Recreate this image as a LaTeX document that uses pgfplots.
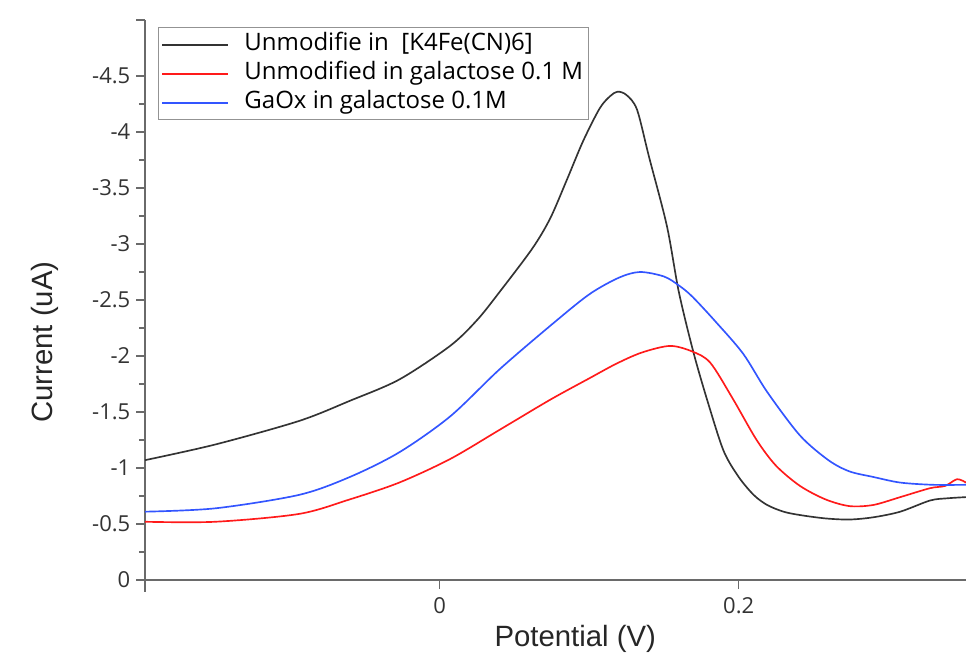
\documentclass[border=0pt]{standalone}
\usepackage{fontspec}
\setmainfont{Open Sans}
\newfontfamily\labelfont{Liberation Sans}
\usepackage{pgfplots}
\pgfplotsset{compat=1.18}

\definecolor{axisgray}{HTML}{6A6A6A}
\definecolor{cvblack}{HTML}{333333}
\definecolor{cvred}{HTML}{FF1A1A}
\definecolor{cvblue}{HTML}{3355FF}

\begin{document}
\begin{tikzpicture}
\useasboundingbox (-108.75pt,-54.75pt) rectangle (615.75pt,435pt);
\begin{axis}[
    scale only axis,
    width=615.75pt, height=420pt,
    xmin=-0.197, xmax=0.352,
    ymin=-5, ymax=0,
    y dir=reverse,
    axis x line*=bottom, axis y line*=left,
    axis line style={axisgray, line width=1.5pt},
    tick style={axisgray, line width=1.1pt},
    tick align=outside,
    major tick length=6.5pt, minor tick length=4.5pt,
    xtick={0,0.2}, xticklabels={0,0.2},
    ytick={-4.5,-4,-3.5,-3,-2.5,-2,-1.5,-1,-0.5,0},
    yticklabels={-4.5,-4,-3.5,-3,-2.5,-2,-1.5,-1,-0.5,0},
    extra y ticks={-5}, extra y tick labels={},
    minor y tick num=1,
    ticklabel style={font=\fontsize{16.5}{19}\selectfont, text=black!80},
    xticklabel style={yshift=-3pt},
    yticklabel style={xshift=-1pt},
    xlabel={Potential (V)},
    ylabel={Current (uA)},
    xlabel style={font=\labelfont\fontsize{22}{26}\selectfont, text=black!85,
        at={(axis description cs:0.524,-0.105)}, anchor=center},
    ylabel style={font=\labelfont\fontsize{22}{26}\selectfont, text=black!85,
        at={(axis description cs:-0.122,0.425)}, anchor=center, rotate=0},
    legend style={at={(rel axis cs:0.016,0.9875)}, anchor=north west,
        draw=gray!85, line width=1pt, fill=white,
        font=\fontsize{18}{21}\selectfont,
        inner xsep=2pt, inner ysep=2.25pt, row sep=0.75pt,
        nodes={text height=13pt, text depth=4pt, inner sep=2pt},
        /tikz/every odd column/.append style={column sep=10pt}},
    legend cell align=left,
    legend image code/.code={\draw[#1] (0pt,0pt) -- (49pt,0pt);},
    every axis plot/.append style={line width=1.25pt, smooth},
    clip=false,
]
\addplot[cvblack] coordinates {
(-0.197,-1.07) (-0.15,-1.21) (-0.094,-1.42) (-0.06,-1.60) (-0.027,-1.79)
(0.007,-2.09) (0.025,-2.32) (0.04,-2.57) (0.062,-2.96) (0.074,-3.23)
(0.085,-3.57) (0.096,-3.92) (0.107,-4.21) (0.114,-4.32) (0.119,-4.36)
(0.125,-4.33) (0.132,-4.20) (0.14,-3.78) (0.152,-3.16) (0.16,-2.57)
(0.17,-2.02) (0.18,-1.56) (0.19,-1.15) (0.2,-0.92) (0.21,-0.76)
(0.219,-0.67) (0.23,-0.61) (0.241,-0.58) (0.258,-0.55) (0.274,-0.54)
(0.29,-0.56) (0.308,-0.61) (0.328,-0.71) (0.34,-0.73) (0.352,-0.74)
};
\addlegendentry{Unmodifie in\ \ [K4Fe(CN)6]}
\addplot[cvred] coordinates {
(-0.197,-0.52) (-0.15,-0.52) (-0.094,-0.59) (-0.06,-0.72) (-0.027,-0.87)
(0.007,-1.08) (0.04,-1.34) (0.074,-1.61) (0.1,-1.80) (0.118,-1.93)
(0.135,-2.03) (0.154,-2.09) (0.169,-2.04) (0.181,-1.94) (0.196,-1.62)
(0.212,-1.25) (0.225,-1.02) (0.241,-0.84) (0.258,-0.72) (0.274,-0.66)
(0.29,-0.67) (0.308,-0.74) (0.328,-0.82) (0.338,-0.84) (0.346,-0.90)
(0.352,-0.87)
};
\addlegendentry{Unmodified in galactose 0.1 M}
\addplot[cvblue] coordinates {
(-0.197,-0.61) (-0.15,-0.64) (-0.094,-0.76) (-0.06,-0.92) (-0.027,-1.14)
(0.007,-1.46) (0.04,-1.88) (0.074,-2.27) (0.1,-2.55) (0.12,-2.70)
(0.134,-2.75) (0.15,-2.71) (0.16,-2.63) (0.169,-2.53) (0.185,-2.30)
(0.203,-2.02) (0.219,-1.68) (0.241,-1.29) (0.26,-1.07) (0.274,-0.97)
(0.29,-0.92) (0.308,-0.87) (0.33,-0.85) (0.352,-0.85)
};
\addlegendentry{GaOx in galactose 0.1M}
\draw[axisgray, line width=1.5pt] (rel axis cs:0,0) -- ([yshift=-9pt]rel axis cs:0,0);
\end{axis}
\end{tikzpicture}
\end{document}
